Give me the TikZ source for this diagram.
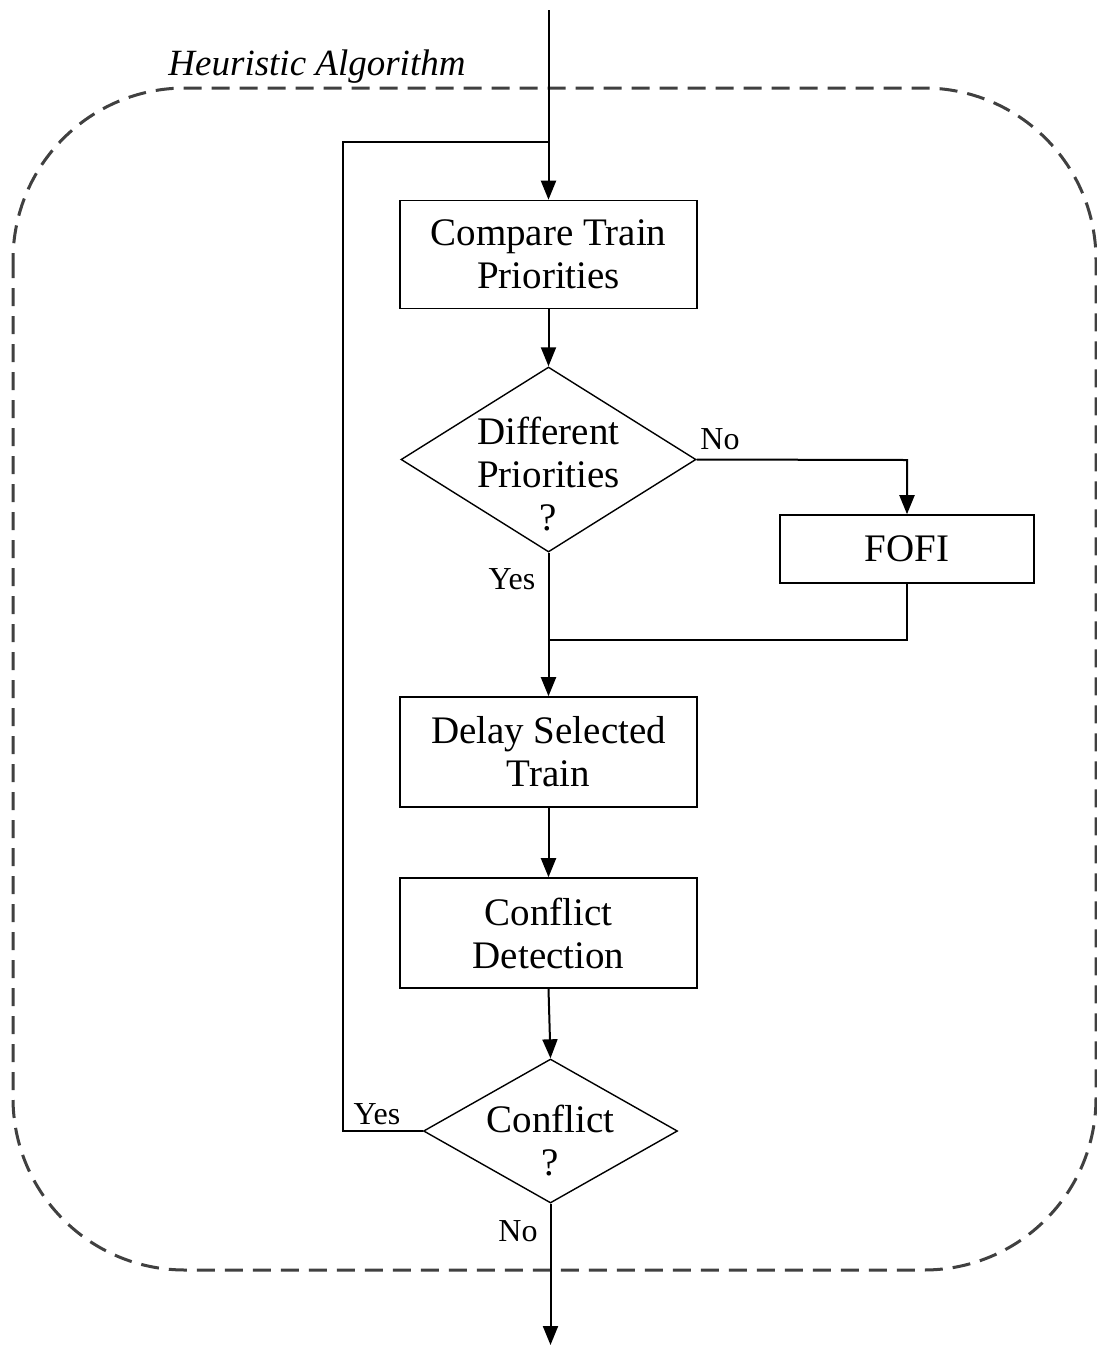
\documentclass[tikz,border=0pt]{standalone}
\usepackage{fontspec}
\setmainfont{Liberation Serif}
\usetikzlibrary{shapes.geometric,arrows.meta}
\newcommand\boxfont{\fontsize{39}{43}\selectfont}
\newcommand\lblfont{\fontsize{32}{35}\selectfont}
\newcommand\titlefont{\fontsize{37}{40}\selectfont\itshape}
\begin{document}
\begin{tikzpicture}[x=1pt,y=-1pt,
  txt/.style={font=\boxfont, align=center},
  procbox/.style={txt, draw, line width=1.6pt, minimum width=297pt, minimum height=108pt, inner sep=0pt},
  decide/.style={draw, diamond, line width=1.4pt, inner sep=0pt},
  lbl/.style={font=\lblfont, inner sep=0pt},
  conn/.style={line width=2pt},
  arr/.style={line width=2pt, -{Triangle[length=19pt,width=15pt]}},
  frame/.style={dashed, dash pattern=on 18pt off 10pt, line width=3pt, draw=black!75, rounded corners=172pt}
]
\useasboundingbox (0,0) rectangle (1097,1345);
\fill[white] (0,0) rectangle (1097,1345);

% dashed frame
\draw[frame] (13,88) rectangle (1096,1270);
\node[font=\titlefont, inner sep=0pt] (title) at (317,67) {Heuristic Algorithm};

% nodes
\node[procbox] (cmp) at (548.5,254.5) {Compare Train\\Priorities};
\node[decide, minimum width=295pt, minimum height=185pt] (d1) at (548.5,459.5) {};
\node[txt] (d1t) at (548.5,474) {Different\\Priorities\\?};
\node[procbox, minimum width=254pt, minimum height=68pt] (fofi) at (907,549) {FOFI};
\node[procbox, minimum height=110pt] (delay) at (548.5,752) {Delay Selected\\Train};
\node[procbox, minimum height=110pt] (det) at (548.5,933) {Conflict\\Detection};
\node[decide, minimum width=254pt, minimum height=144pt] (d2) at (550.5,1131) {};
\node[txt] (d2t) at (550.5,1141) {Conflict\\?};

% coordinates
\coordinate (in) at (548.5,10);
\coordinate (out) at (550.5,1345);
\coordinate (loopbl) at (343,1131);
\coordinate (looptl) at (343,142);
\coordinate (looptr) at (548.5,142);
\coordinate (nocorner) at (907,460);
\coordinate (join) at (548.5,640);

% connectors
\draw[arr] (in) -- (cmp.north);
\draw[conn] (d2.west) -- (loopbl) -- (looptl) -- (looptr);
\draw[arr] (cmp.south) -- (d1.north);
\draw[arr] (d1.east) -- (nocorner) -- (fofi.north);
\draw[conn] (fofi.south) |- (join);
\draw[arr] (d1.south) -- (delay.north);
\draw[arr] (delay.south) -- (det.north);
\draw[arr] (det.south) -- (d2.north);
\draw[arr] (d2.south) -- (out);

% labels
\node[lbl] (l1) at (720,439) {No};
\node[lbl] (l2) at (512,579) {Yes};
\node[lbl] (l3) at (377,1114) {Yes};
\node[lbl] (l4) at (518,1231) {No};
\end{tikzpicture}
\end{document}
